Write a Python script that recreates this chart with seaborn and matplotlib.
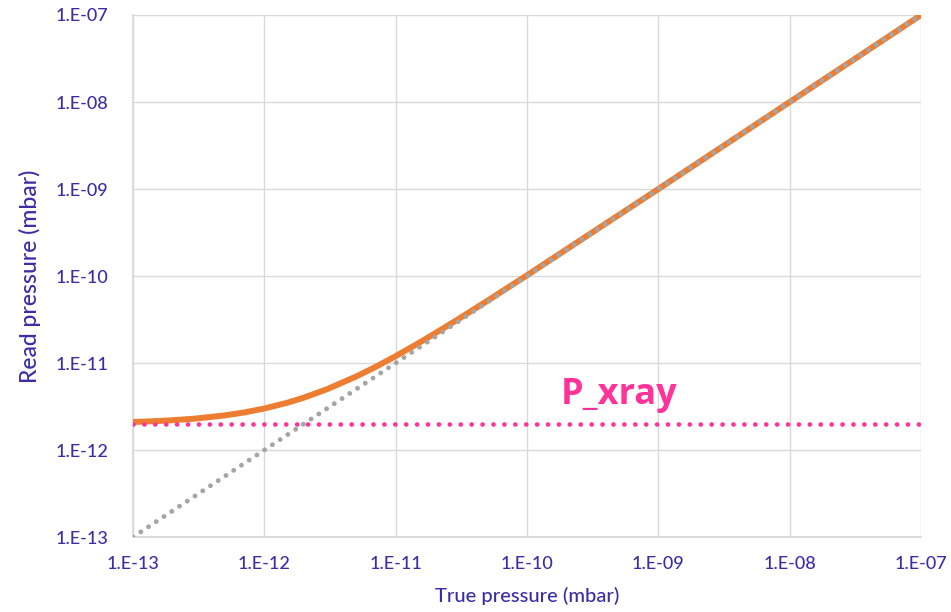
import matplotlib
matplotlib.use("Agg")
import matplotlib.pyplot as plt
import matplotlib.ticker as mticker
import seaborn as sns
import pandas as pd

# True pressure (mbar) and the gauge reading with the X-ray limit added
true_p = [1e-13, 1.5e-13, 2e-13, 3e-13, 5e-13, 7e-13, 1e-12, 1.5e-12, 2e-12, 3e-12,
          5e-12, 7e-12, 1e-11, 1.5e-11, 2e-11, 3e-11, 5e-11, 1e-10, 1e-9, 1e-8, 1e-7]
read_p = [2.1e-12, 2.15e-12, 2.2e-12, 2.3e-12, 2.5e-12, 2.7e-12, 3.0e-12, 3.5e-12, 4.0e-12, 5.0e-12,
          7.0e-12, 9.0e-12, 1.2e-11, 1.7e-11, 2.2e-11, 3.2e-11, 5.2e-11, 1.02e-10, 1.0e-9, 1.0e-8, 1.0e-7]

# Ideal gauge (read = true)
ideal_x = [1e-13, 1e-7]
ideal_y = [1e-13, 1e-7]

# X-ray limit level
xray_x = [1e-13, 1e-7]
xray_y = [2e-12, 2e-12]

tick_vals = [1e-13, 1e-12, 1e-11, 1e-10, 1e-9, 1e-8, 1e-7]
tick_labels = ["1.E-13", "1.E-12", "1.E-11", "1.E-10", "1.E-09", "1.E-08", "1.E-07"]

sns.set_style("white")
plt.rcParams["font.family"] = ["Lato", "DejaVu Sans"]

TXT = "#3A2EA6"
ORANGE = "#ED7D31"
GRAY = "#A5A5A5"
PINK = "#FF3399"
GRID = "#D9D9D9"

fig = plt.figure(figsize=(9.51, 6.12), dpi=100)
ax = fig.add_axes([0.1399, 0.1225, 0.8286, 0.853])

curve = pd.DataFrame({"x": true_p, "y": read_p})
ideal = pd.DataFrame({"x": ideal_x, "y": ideal_y})
xray = pd.DataFrame({"x": xray_x, "y": xray_y})

sns.lineplot(data=curve, x="x", y="y", sort=False, ax=ax, color=ORANGE,
             linewidth=4.3, solid_capstyle="butt", zorder=3)
sns.lineplot(data=ideal, x="x", y="y", sort=False, ax=ax, color=GRAY,
             linewidth=3.5, linestyle=(0, (0.01, 1.9)), dash_capstyle="round", zorder=4)
sns.lineplot(data=xray, x="x", y="y", sort=False, ax=ax, color=PINK,
             linewidth=3.4, linestyle=(0, (0.01, 2.3)), dash_capstyle="round", zorder=5)

ax.set_xscale("log")
ax.set_yscale("log")
ax.set_xlim(1e-13, 1e-7)
ax.set_ylim(1e-13, 1e-7)

ax.xaxis.set_major_locator(mticker.FixedLocator(tick_vals))
ax.yaxis.set_major_locator(mticker.FixedLocator(tick_vals))
ax.xaxis.set_minor_locator(mticker.NullLocator())
ax.yaxis.set_minor_locator(mticker.NullLocator())
ax.set_xticklabels(tick_labels)
ax.set_yticklabels(tick_labels)
ax.tick_params(axis="both", length=0, labelsize=13, labelcolor=TXT)
ax.tick_params(axis="x", pad=14)
ax.tick_params(axis="y", pad=18)
for lbl in ax.get_xticklabels() + ax.get_yticklabels():
    lbl.set_fontweight("medium")

ax.grid(True, color=GRID, linewidth=1.0, zorder=0)
ax.set_axisbelow(True)
for side in ["top", "right"]:
    ax.spines[side].set_visible(False)
for side in ["left", "bottom"]:
    ax.spines[side].set_color(GRID)
    ax.spines[side].set_linewidth(1.3)

ax.set_xlabel("True pressure (mbar)", fontsize=14.5, color=TXT, fontweight="medium")
ax.xaxis.set_label_coords(0.5, -0.095)
ax.set_ylabel("Read pressure (mbar)", fontsize=16.5, color=TXT, fontweight="medium")
ax.yaxis.set_label_coords(-0.117, 0.5)

ax.text(5.0e-10, 3.4e-12, "P_xray", color=PINK, fontsize=26, fontweight="bold",
        family=["Open Sans", "DejaVu Sans"], ha="center", va="baseline")

fig.savefig("out.png", dpi=100)
